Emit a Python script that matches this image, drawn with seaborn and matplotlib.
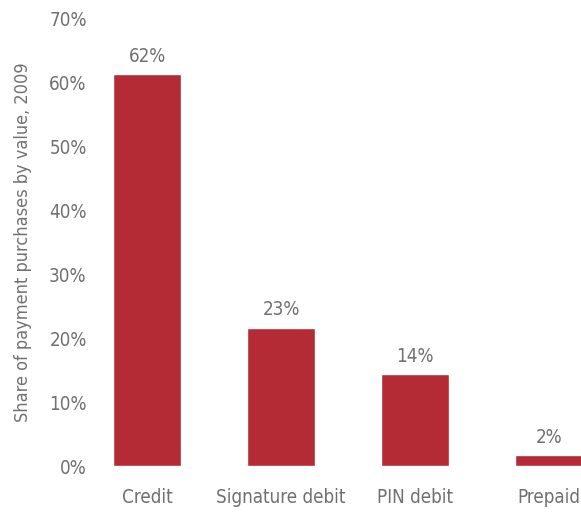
import matplotlib
matplotlib.use("Agg")
import matplotlib.pyplot as plt
import seaborn as sns
import pandas as pd
from matplotlib.ticker import FuncFormatter

# データ
categories = ["Credit", "Signature debit", "PIN debit", "Prepaid"]
shares = [61.2, 21.6, 14.4, 1.7]
share_labels = ["62%", "23%", "14%", "2%"]
y_ticks = [0, 10, 20, 30, 40, 50, 60, 70]

bar_color = "#B52B35"
text_color = "#707070"

sns.set_theme(style="white")
plt.rcParams['font.family'] = ['DejaVu Sans']
plt.rcParams['font.stretch'] = 'condensed'

df = pd.DataFrame({"category": categories, "share": shares})

fig = plt.figure(figsize=(5.81, 5.12), dpi=100)
ax = fig.add_axes([95 / 581, 1 - 466 / 512, (581 - 95) / 581, (466 - 18) / 512])

sns.barplot(data=df, x="category", y="share", color=bar_color, width=0.51,
            saturation=1, ax=ax)

for i, (v, lab) in enumerate(zip(shares, share_labels)):
    ax.text(i, v + 1.3, lab, ha="center", va="bottom", fontsize=13.5,
            color=text_color)

ax.set_ylim(0, 70)
ax.set_xlim(-0.39, 3.24)
ax.set_yticks(y_ticks)
ax.yaxis.set_major_formatter(FuncFormatter(lambda v, p: f"{v:.0f}%"))
ax.tick_params(axis="both", length=0, labelsize=13.5, colors=text_color)
ax.tick_params(axis="x", pad=16)
ax.tick_params(axis="y", pad=6)
ax.set_xlabel("")
ax.set_ylabel("Share of payment purchases by value, 2009", fontsize=13,
              color=text_color, labelpad=12)
sns.despine(ax=ax, left=True, bottom=True)
ax.grid(False)

fig.savefig("out.png", dpi=100)
